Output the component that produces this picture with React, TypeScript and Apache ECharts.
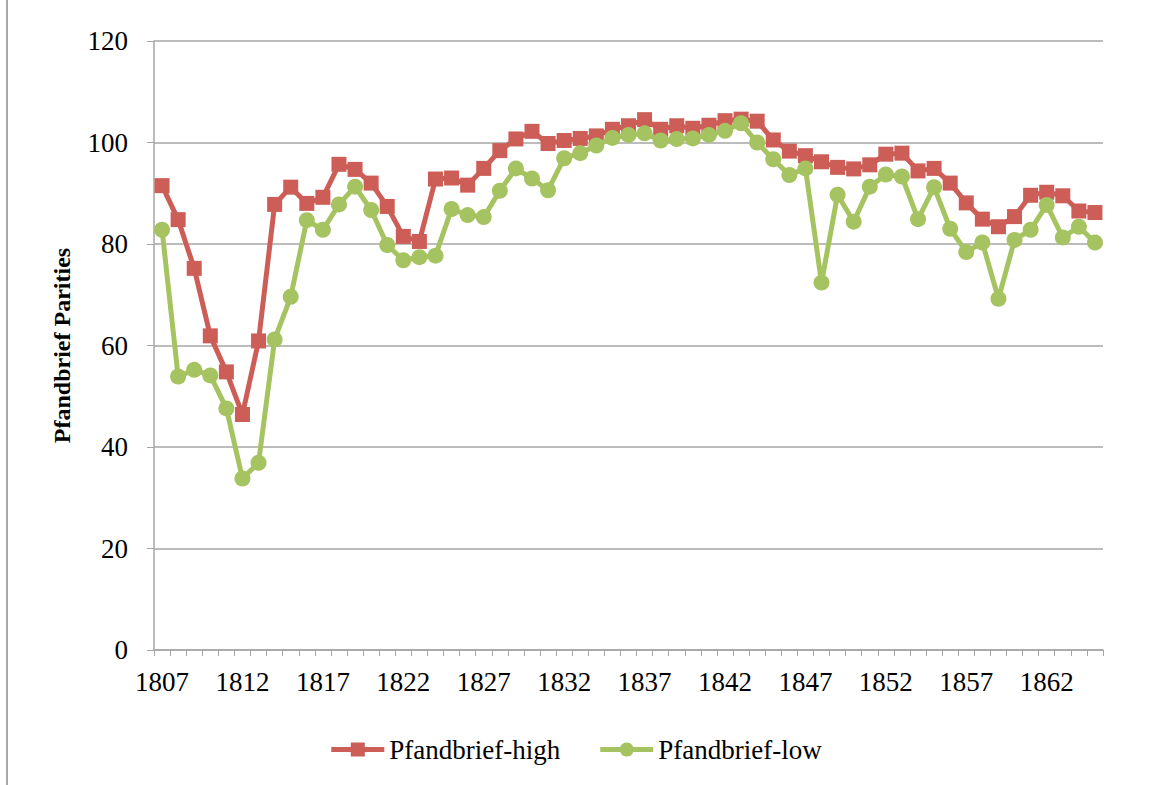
import React, { useEffect, useRef } from "react";
import * as echarts from "echarts";

const years: string[] = [];
for (let y = 1807; y <= 1865; y++) years.push(String(y));

const highValues = [
  91.5, 84.8, 75.2, 61.9, 54.8, 46.4, 60.9, 87.8, 91.2, 88.0,
  89.2, 95.7, 94.7, 92.0, 87.4, 81.5, 80.5, 92.8, 93.0, 91.6,
  94.9, 98.4, 100.7, 102.2, 99.8, 100.4, 100.8, 101.3, 102.6, 103.3,
  104.5, 102.6, 103.3, 102.8, 103.4, 104.3, 104.6, 104.2, 100.5, 98.3,
  97.4, 96.2, 95.1, 94.8, 95.6, 97.7, 97.9, 94.4, 94.9, 92.0,
  88.1, 84.9, 83.4, 85.4, 89.6, 90.2, 89.5, 86.5, 86.2,
];

const lowValues = [
  82.8, 53.9, 55.2, 54.1, 47.6, 33.8, 36.9, 61.2, 69.6, 84.7,
  82.8, 87.8, 91.3, 86.7, 79.8, 76.8, 77.4, 77.7, 86.9, 85.7,
  85.3, 90.5, 94.9, 92.9, 90.6, 96.9, 97.9, 99.4, 100.9, 101.5,
  101.8, 100.4, 100.7, 100.8, 101.5, 102.3, 103.8, 100.0, 96.7, 93.6,
  94.9, 72.4, 89.7, 84.4, 91.3, 93.7, 93.3, 84.9, 91.2, 83.0,
  78.4, 80.3, 69.2, 80.8, 82.8, 87.7, 81.3, 83.4, 80.3,
];

const RED = "#CC5E57";
const GREEN = "#A6C361";
const FONT = "'Liberation Serif', 'DejaVu Serif', serif";

const ICON_SQUARE_LINE =
  "path://M0 4.5 H19.5 V0 H33.5 V4.5 H53 V9.5 H33.5 V14 H19.5 V9.5 H0 Z";
const ICON_CIRCLE_LINE =
  "path://M0 4.5 H19.96 A7 7 0 0 1 33.04 4.5 H53 V9.5 H33.04 A7 7 0 0 1 19.96 9.5 H0 Z";

export default function App() {
  const ref = useRef<HTMLDivElement>(null);
  useEffect(() => {
    if (!ref.current) return;
    const chart = echarts.init(ref.current, null, { renderer: "svg" });
    chart.setOption({
      animation: false,
      backgroundColor: "#ffffff",
      grid: { left: 154, right: 50, top: 41, bottom: 135, containLabel: false },
      legend: {
        top: 731,
        left: "center",
        itemWidth: 53,
        itemHeight: 14,
        itemGap: 40,
        textStyle: { fontFamily: FONT, fontSize: 27, color: "#000" },
        data: [
          { name: "Pfandbrief-high", icon: ICON_SQUARE_LINE, itemStyle: { color: RED, borderWidth: 0 } },
          { name: "Pfandbrief-low", icon: ICON_CIRCLE_LINE, itemStyle: { color: GREEN, borderWidth: 0 } },
        ],
      },
      xAxis: {
        type: "category",
        data: years,
        boundaryGap: true,
        axisLine: { lineStyle: { color: "#A6A6A6", width: 1.5 } },
        axisTick: { show: true, interval: 0, length: 6, lineStyle: { color: "#A6A6A6", width: 1 } },
        axisLabel: {
          interval: 4,
          margin: 18,
          fontFamily: FONT,
          fontSize: 27,
          color: "#000",
        },
        splitLine: { show: false },
      },
      yAxis: {
        type: "value",
        min: 0,
        max: 120,
        interval: 20,
        name: "Pfandbrief Parities",
        nameLocation: "middle",
        nameGap: 80,
        nameTextStyle: { fontFamily: FONT, fontSize: 24, fontWeight: "bold", color: "#000" },
        axisLine: { show: true, lineStyle: { color: "#A6A6A6", width: 1.5 } },
        axisTick: { show: true, length: 7, lineStyle: { color: "#A6A6A6", width: 1 } },
        axisLabel: { margin: 26, fontFamily: FONT, fontSize: 27, color: "#000" },
        splitLine: { show: true, lineStyle: { color: "#A6A6A6", width: 1.5 } },
      },
      series: [
        {
          name: "Pfandbrief-high",
          type: "line",
          data: highValues,
          symbol: "rect",
          symbolSize: 15,
          showAllSymbol: true,
          lineStyle: { color: RED, width: 5 },
          itemStyle: { color: RED },
          z: 2,
        },
        {
          name: "Pfandbrief-low",
          type: "line",
          data: lowValues,
          symbol: "circle",
          symbolSize: 16,
          showAllSymbol: true,
          lineStyle: { color: GREEN, width: 5 },
          itemStyle: { color: GREEN },
          z: 3,
        },
      ],
      graphic: [
        {
          type: "line",
          shape: { x1: 7, y1: 0, x2: 7, y2: 785 },
          style: { stroke: "#8C8C8C", lineWidth: 1.5 },
        },
      ],
    });
    return () => chart.dispose();
  }, []);
  return (
    <div
      ref={ref}
      style={{ width: 1153, height: 785, position: "absolute", left: 0, top: 0 }}
    />
  );
}
